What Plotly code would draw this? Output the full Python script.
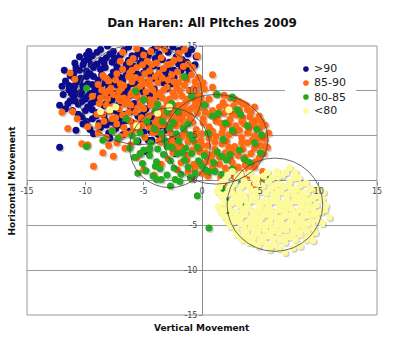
import plotly.graph_objects as go

# Pitch movement (inches) grouped by pitch speed (mph)
series_names = [">90", "85-90", "80-85", "<80"]
series_colors = ["#0c0c8c", "#ff6a12", "#26a820", "#fdfa9c"]

pts_over_90 = [
    (-8.7, 14.6), (-7.6, 14.4), (-6.3, 14.9), (-5.2, 14.5), (-4.0, 14.8), (-2.9, 14.3), (-0.9, 14.6),
    (-9.4, 13.9), (-8.2, 13.7), (-7.0, 14.0), (-5.8, 13.6), (-4.6, 13.9), (-3.4, 13.5), (-2.2, 13.8), (-1.3, 13.2),
    (-10.1, 13.3), (-9.0, 13.0), (-7.7, 13.2), (-6.5, 12.9), (-5.3, 13.1), (-4.1, 12.8), (-2.9, 12.6), (-1.8, 12.3),
    (-10.8, 12.6), (-9.9, 12.2), (-8.7, 12.4), (-7.6, 12.1), (-6.3, 12.3), (-5.0, 12.0), (-3.8, 11.7),
    (-11.3, 11.7), (-10.4, 11.4), (-9.3, 11.6), (-8.2, 11.3), (-7.0, 11.5), (-5.8, 11.2), (-4.6, 11.0), (-3.3, 10.9),
    (-11.7, 11.1), (-10.9, 10.6), (-9.8, 10.8), (-8.7, 10.5), (-7.5, 10.7), (-6.4, 10.4), (-5.2, 10.2),
    (-11.4, 10.1), (-10.3, 9.9), (-9.2, 10.1), (-8.1, 9.8), (-6.9, 9.9), (-5.7, 9.6), (-4.5, 9.5),
    (-11.0, 9.3), (-10.0, 9.1), (-8.9, 9.3), (-7.7, 9.0), (-6.5, 9.1), (-5.3, 8.8),
    (-10.6, 8.5), (-9.5, 8.6), (-8.4, 8.3), (-7.2, 8.4), (-6.1, 8.1), (-4.8, 8.0), (-12.2, 8.4),
    (-10.0, 7.8), (-8.9, 7.6), (-7.8, 7.8), (-6.6, 7.4), (-5.5, 7.2), (-4.3, 7.1),
    (-9.4, 6.9), (-8.3, 6.7), (-7.1, 6.8), (-5.9, 6.4), (-4.6, 6.4), (-3.5, 6.1),
    (-10.2, 6.3), (-8.7, 5.9), (-7.4, 5.8), (-6.2, 5.5), (-5.0, 5.4), (-3.8, 5.2), (-3.0, 5.6),
    (-2.5, 4.7), (-4.3, 4.5), (-5.5, 4.4), (-7.9, 4.7), (-4.7, 3.2), (-2.8, 3.9), (-1.9, 3.5), (-12.2, 3.7), (-11.7, 8.0),
    (-10.5, 13.8), (-9.7, 14.4), (-8.1, 15.0), (-7.2, 13.5), (-6.0, 13.9), (-4.9, 14.2), (-3.7, 14.1), (-2.5, 14.9), (-1.6, 14.7),
    (-10.2, 12.9), (-9.3, 12.6), (-8.4, 13.1), (-7.3, 12.7), (-6.1, 12.6), (-4.5, 12.5), (-3.1, 12.1), (-2.4, 11.5),
    (-11.0, 12.0), (-9.6, 11.9), (-8.6, 11.8), (-7.4, 11.9), (-6.5, 11.7), (-5.4, 11.6), (-4.2, 11.4),
    (-10.5, 11.0), (-9.4, 10.7), (-8.3, 10.9), (-7.1, 10.3), (-6.0, 10.8),
    (-11.2, 9.7), (-10.4, 9.6), (-9.6, 9.7), (-8.5, 9.6), (-7.3, 9.4), (-6.2, 9.5),
    (-10.9, 8.9), (-9.8, 8.2), (-8.0, 8.8), (-7.0, 7.3), (-9.1, 7.2), (-10.6, 7.4), (-11.3, 8.9), (-8.2, 6.2), (-6.9, 6.2), (-9.6, 5.7),
    (-11.0, 10.3), (-3.9, 13.3), (-2.0, 13.0), (-1.1, 12.0), (-3.0, 11.4),
    (-4.2, 6.0), (-4.6, 4.5), (-3.0, 6.0), (-3.6, 4.9), (-2.7, 4.2), (-2.3, 3.0),
    (-9.0, 14.3), (-7.9, 14.1), (-6.7, 14.5), (-5.5, 14.1), (-4.3, 14.5), (-3.2, 14.9), (-2.0, 14.5), (-1.2, 14.1), (-0.5, 13.8),
    (-9.7, 13.5), (-8.6, 13.4), (-7.5, 13.7), (-6.3, 13.4), (-5.1, 13.6), (-4.0, 13.6), (-2.8, 13.2), (-1.7, 13.5), (-0.6, 12.9),
    (-10.5, 12.3), (-9.5, 12.9), (-8.3, 12.6), (-7.0, 12.4), (-5.8, 12.7), (-4.8, 12.6), (-3.6, 12.3), (-2.4, 12.3), (-1.3, 12.6),
    (-11.0, 11.5), (-9.9, 11.6), (-8.9, 11.2), (-7.8, 11.6), (-6.8, 11.1), (-5.6, 11.9), (-4.4, 11.8), (-3.6, 11.2), (-2.6, 10.8),
    (-11.4, 10.6), (-10.2, 10.5), (-9.1, 10.5), (-8.0, 10.4), (-6.8, 10.7), (-5.5, 10.6), (-4.1, 10.2), (-3.0, 10.3),
    (-10.8, 9.7), (-9.8, 9.4), (-8.8, 9.9), (-7.6, 9.7), (-6.5, 9.7), (-5.0, 9.8), (-3.8, 9.4),
    (-11.5, 8.6), (-10.3, 8.8), (-9.2, 8.8), (-8.2, 8.6), (-7.0, 8.8), (-5.8, 8.6), (-4.4, 8.6),
    (-11.1, 7.8), (-10.3, 7.1), (-9.4, 7.9), (-8.4, 7.3), (-7.3, 7.7), (-6.1, 7.7), (-5.0, 7.5), (-3.9, 7.6),
    (-9.9, 6.6), (-8.8, 6.4), (-7.7, 6.5), (-6.5, 6.7), (-5.3, 6.7), (-4.0, 6.7),
    (-9.3, 5.2), (-8.0, 5.3), (-6.8, 5.1), (-5.6, 5.9), (-4.4, 5.5), (-10.8, 5.6),
    (-11.9, 9.6), (-12.0, 10.5), (-11.8, 12.3), (-10.9, 13.1), (-9.9, 14.0),
]

pts_85_90 = [
    (-6.8, 14.3), (-5.6, 14.7), (-4.4, 14.4), (-3.2, 14.6), (-2.0, 14.2),
    (-7.0, 13.3), (-5.9, 13.6), (-4.7, 13.3), (-3.5, 13.7), (-2.4, 13.4), (-1.2, 13.0),
    (-6.8, 12.4), (-5.6, 12.6), (-4.5, 12.2), (-3.3, 12.5), (-2.1, 12.1), (-0.9, 11.8), (-1.6, 12.7),
    (-11.3, 12.0), (-10.9, 11.3), (-8.5, 11.7), (-7.4, 11.2), (-6.3, 11.6), (-5.2, 11.3), (-4.0, 11.6), (-2.9, 11.2), (-1.7, 11.5), (-0.6, 11.0),
    (-8.9, 10.7), (-7.8, 10.3), (-6.7, 10.6), (-5.6, 10.2), (-4.4, 10.5), (-3.3, 10.1), (-2.2, 10.4), (-1.1, 10.0), (-0.2, 10.5),
    (-9.4, 9.4), (-8.3, 9.7), (-7.2, 9.3), (-6.1, 9.6), (-5.0, 9.2), (-3.9, 9.5), (-2.8, 9.1), (-1.7, 9.4), (-0.6, 9.0),
    (-8.8, 8.6), (-7.7, 8.2), (-6.6, 8.5), (-5.5, 8.1), (-4.4, 8.4), (-3.3, 8.0), (-2.2, 8.3), (-1.1, 7.9),
    (-12.0, 7.6), (-11.1, 7.7), (-9.0, 7.4), (-7.9, 7.7), (-6.8, 7.3), (-5.7, 7.6), (-4.6, 7.2), (-3.5, 7.5), (-2.4, 7.1),
    (-9.8, 6.0), (-8.4, 6.6), (-7.3, 6.3), (-6.2, 6.7), (-5.1, 6.2), (-4.0, 6.5), (-2.9, 6.2),
    (-8.9, 5.3), (-7.7, 5.6), (-6.5, 5.2), (-5.4, 5.6), (-4.2, 5.3),
    (-9.8, 4.0), (-10.3, 4.1), (-8.5, 3.1), (-7.6, 2.7), (-9.3, 1.6), (-7.3, 4.2), (-6.1, 4.0), (-5.3, 3.0),
    (-5.0, 1.2), (-4.1, 0.6), (-3.5, 1.8), (-5.6, 2.6),
    (-6.0, 11.0), (-4.9, 10.8), (-3.8, 10.9), (-7.1, 10.0), (-5.9, 9.9), (-4.8, 9.9), (-3.6, 9.8), (-2.5, 9.8),
    (-6.4, 9.0), (-5.3, 8.7), (-4.1, 8.9), (-3.0, 8.6), (-7.0, 8.9), (-8.1, 9.1), (-4.3, 12.9), (-6.2, 12.0),
    (-3.0, 12.9), (-5.0, 14.0), (-8.6, 10.1), (-2.0, 10.9), (-1.4, 8.7), (-0.3, 9.6), (-8.0, 11.1),
    (-2.6, 6.7), (-1.7, 6.8), (-3.8, 6.9), (-5.9, 6.0),
    (-6.2, 13.2), (-5.1, 12.9), (-3.9, 13.1), (-2.7, 13.0), (-1.9, 13.6), (-0.8, 12.6),
    (-7.3, 11.9), (-6.0, 12.3), (-4.9, 11.9), (-3.7, 12.0), (-2.6, 11.8), (-1.3, 11.2), (-0.3, 11.5),
    (-8.2, 11.4), (-7.0, 10.8), (-5.7, 11.5), (-4.5, 11.2), (-3.4, 11.4), (-2.4, 11.0), (-1.5, 10.6), (-0.7, 10.3),
    (-8.0, 10.0), (-6.9, 10.3), (-5.3, 10.5), (-4.2, 10.1), (-3.0, 10.4), (-1.9, 10.0), (-0.9, 9.3),
    (-8.7, 9.2), (-7.6, 9.6), (-6.7, 9.2), (-5.6, 9.4), (-4.5, 9.0), (-3.4, 9.2), (-2.3, 9.4), (-1.2, 9.1), (-0.1, 8.8),
    (-8.2, 8.4), (-7.1, 8.0), (-6.1, 8.4), (-5.0, 8.0), (-3.9, 8.2), (-2.8, 7.9), (-1.7, 8.1), (-0.6, 8.4),
    (-8.5, 7.4), (-7.4, 7.0), (-6.3, 7.6), (-5.2, 7.0), (-4.1, 7.6), (-3.0, 7.3), (-1.9, 7.3),
    (-8.9, 6.1), (-7.7, 6.9), (-6.7, 5.9), (-5.6, 6.4), (-4.5, 5.9), (-3.4, 6.2), (-2.2, 6.1),
    (-8.2, 4.8), (-7.0, 4.9), (-6.0, 5.3), (-4.9, 4.8), (-3.7, 4.4), (-6.6, 3.6), (-8.0, 3.9), (-4.5, 3.6),
    (-10.7, 6.9), (-11.5, 5.8), (-3.8, 15.0), (-1.5, 14.6), (-0.4, 13.9),
    (0.9, 11.8), (0.1, 10.9), (3.2, 8.8), (4.3, 6.5), (5.2, 4.9), (5.4, 3.8),
    (-0.5, 8.8), (0.6, 9.1), (1.8, 8.7), (2.9, 9.0), (-1.6, 8.4),
    (-2.5, 7.9), (-1.3, 7.7), (-0.2, 8.1), (0.9, 7.8), (2.1, 8.2), (3.2, 7.9), (4.2, 7.6),
    (-3.3, 7.0), (-2.1, 6.8), (-1.0, 7.2), (0.1, 6.9), (1.3, 7.1), (2.4, 6.8), (3.5, 7.0), (4.6, 6.7), (5.1, 6.6),
    (-3.9, 6.0), (-2.8, 5.8), (-1.6, 6.1), (-0.5, 5.7), (0.6, 6.0), (1.8, 5.8), (2.9, 6.1), (4.0, 5.7), (5.0, 5.9),
    (-3.4, 4.9), (-2.2, 5.1), (-1.1, 4.8), (0.0, 5.2), (1.2, 4.9), (2.3, 5.1), (3.4, 4.8), (4.5, 5.0), (5.4, 4.6),
    (-3.0, 4.0), (-1.8, 3.8), (-0.6, 4.2), (0.5, 3.9), (1.7, 4.1), (2.8, 3.8), (3.9, 4.2), (5.0, 3.9), (5.6, 3.7),
    (-2.5, 3.1), (-1.3, 2.8), (-0.2, 3.2), (0.9, 2.9), (2.0, 3.1), (3.1, 2.8), (4.2, 3.0), (4.9, 2.5),
    (-1.8, 2.0), (-0.7, 1.8), (0.4, 2.1), (1.5, 1.8), (2.6, 2.0), (3.7, 1.7), (4.5, 1.5),
    (-1.2, 1.0), (0.0, 0.8), (1.1, 1.1), (2.2, 0.7), (3.3, 0.9), (4.1, 0.5),
    (2.7, -1.4), (5.0, 0.0), (4.4, -0.5), (1.8, -0.3),
    (0.3, 7.6), (1.6, 6.4), (2.6, 7.4), (3.6, 6.3), (-0.8, 6.5), (0.9, 5.5), (2.1, 4.4), (3.2, 5.6), (-0.1, 4.5),
    (1.1, 3.5), (2.4, 2.5), (3.5, 3.5), (-1.5, 5.4), (0.7, 2.5), (4.3, 4.5), (-2.6, 4.5), (1.9, 9.5), (-0.9, 9.6), (3.8, 8.4), (0.2, 10.2),
    (-0.1, 9.3), (1.2, 9.6), (2.4, 9.2), (3.5, 8.6), (4.5, 8.2),
    (-2.0, 8.4), (-0.8, 8.1), (0.3, 8.5), (1.5, 8.2), (2.7, 8.3), (3.9, 7.9), (4.9, 7.2),
    (-2.9, 7.5), (-1.6, 7.4), (-0.4, 7.5), (0.7, 7.3), (1.9, 7.5), (3.0, 7.3), (4.1, 7.1), (5.4, 6.2),
    (-3.4, 6.4), (-2.3, 6.4), (-1.1, 6.7), (0.1, 6.4), (1.2, 6.6), (2.3, 6.3), (3.4, 6.6), (4.5, 6.1), (5.7, 5.3),
    (-3.8, 5.4), (-2.7, 5.3), (-1.7, 4.9), (-0.5, 5.1), (0.6, 4.7), (1.7, 5.3), (2.8, 5.4), (3.9, 5.3), (4.9, 4.7),
    (-3.5, 4.3), (-2.4, 3.9), (-1.2, 4.3), (0.0, 3.9), (1.1, 4.3), (2.3, 3.7), (3.4, 4.2), (4.5, 3.6),
    (-2.0, 3.5), (-0.8, 3.4), (0.3, 3.1), (1.5, 2.6), (2.6, 3.2), (3.7, 2.6), (4.6, 2.1), (5.3, 3.0),
    (-1.3, 2.3), (-0.2, 1.9), (0.9, 1.5), (2.0, 1.4), (3.1, 1.5), (4.0, 1.2),
    (-0.6, 1.3), (0.5, 0.5), (1.6, 0.3), (2.8, 0.4), (3.6, 0.1), (5.2, 1.0),
    (0.9, 10.4), (-0.9, 0.2), (-2.1, 1.2), (-2.9, 2.4),
]

pts_80_85 = [
    (-9.9, 10.3), (-5.7, 10.0), (-5.0, 9.0), (-3.8, 8.5), (-3.0, 7.7), (-4.0, 7.8), (-2.1, 7.7), (-2.6, 8.6), (-1.5, 11.6),
    (-9.9, 3.8), (-8.5, 4.5), (-7.7, 5.5), (-7.2, 4.7), (1.3, 9.6), (2.6, 9.3), (3.0, 7.9), (3.3, 7.4), (0.9, 7.2),
    (1.4, 7.5), (2.0, 6.4), (2.6, 5.6), (5.1, 5.1), (4.7, 5.7), (1.8, 4.6), (1.7, 2.7), (4.1, 2.0), (5.0, 3.1),
    (-0.9, 9.4), (0.2, 8.4), (-1.2, 6.3), (3.9, 6.1), (4.5, 4.2), (3.2, 3.4), (0.5, 5.3), (-0.4, 3.7), (2.6, 1.3), (3.6, 2.4), (-6.5, 6.9),
    (-6.2, 3.6), (-5.6, 4.4), (-5.0, 3.4), (-4.4, 4.2), (-3.8, 3.5), (-3.2, 4.5), (-2.6, 3.7), (-2.0, 4.4), (-1.4, 3.6), (-0.8, 4.6),
    (-5.8, 2.6), (-5.1, 1.9), (-4.5, 2.8), (-3.9, 2.1), (-3.3, 2.9), (-2.7, 2.2), (-2.1, 3.0), (-1.5, 2.3), (-0.9, 3.0), (-0.3, 2.2),
    (-4.8, 1.1), (-4.2, 0.5), (-3.6, 1.3), (-3.0, 0.6), (-2.4, 1.4), (-1.8, 0.7), (-1.2, 1.5), (-0.6, 0.8), (0.0, 1.6), (0.6, 1.0),
    (-3.5, 5.3), (-2.8, 5.9), (-2.2, 5.2), (-1.6, 5.8), (-1.0, 5.1), (-4.1, 5.8), (-4.7, 6.6), (-3.4, 6.6), (-2.5, 6.5), (-5.3, 5.3), (-6.0, 5.0),
    (-2.7, -0.6), (-1.9, -0.1), (-0.4, -1.7), (-3.9, 0.1), (-5.5, 0.8),
    (0.3, 1.2), (1.1, 1.0), (1.7, 0.7), (2.1, 2.3), (2.4, 2.9), (1.0, 2.0), (1.3, 3.2), (0.2, 2.8),
    (2.0, -2.1), (2.1, -3.6), (1.8, -1.0), (0.6, -5.3), (4.3, -6.9), (5.1, -0.4), (5.6, 0.5), (3.8, -2.5), (5.9, -5.3), (3.4, -0.3),
    (-4.5, 3.5), (-3.0, 3.8), (-1.7, 3.1), (-4.0, 1.6), (-2.3, 0.1), (-1.0, 0.3), (-5.3, 3.0), (-3.5, 0.1),
]

pts_under_80 = [
    (-8.7, 7.7), (-7.9, 7.9), (-7.4, 8.2), (-5.6, 6.1), (-3.8, 7.5), (-2.8, 8.2), (2.3, 7.9),
    (7.5, 1.4), (6.4, 1.0),
    (3.0, 0.4), (4.1, 0.8), (5.3, 0.5), (6.9, 0.6), (7.9, 0.3), (2.2, 0.6),
    (1.7, -0.2), (2.7, -0.4), (3.6, 0.0), (4.6, -0.3), (5.7, -0.1), (6.6, -0.4), (7.5, -0.2), (8.4, -0.5),
    (1.3, -1.2), (2.3, -1.0), (3.2, -1.3), (4.1, -0.9), (5.0, -1.2), (5.9, -0.9), (6.8, -1.3), (7.7, -1.0), (8.6, -1.4), (10.4, -1.3), (9.3, -0.9),
    (1.8, -2.0), (2.8, -1.8), (3.7, -2.1), (4.6, -1.8), (5.5, -2.2), (6.4, -1.9), (7.3, -2.2), (8.2, -1.9), (9.1, -2.3), (10.3, -2.1), (9.8, -1.7),
    (1.4, -2.9), (2.3, -3.1), (3.2, -2.8), (4.1, -3.2), (5.0, -2.9), (5.9, -3.3), (6.8, -2.9), (7.7, -3.2), (8.6, -2.8), (9.5, -3.2),
    (1.9, -4.0), (2.8, -4.2), (3.7, -3.8), (4.6, -4.1), (5.5, -3.8), (6.4, -4.2), (7.3, -3.9), (8.2, -4.3), (9.1, -3.9), (10.9, -4.1), (10.0, -4.4),
    (2.4, -5.1), (3.3, -4.8), (4.2, -5.2), (5.1, -4.9), (6.0, -5.3), (6.9, -4.9), (7.8, -5.2), (8.7, -4.8), (9.6, -5.3),
    (3.0, -6.0), (3.9, -6.3), (4.8, -5.9), (5.7, -6.2), (6.6, -5.8), (7.5, -6.3), (8.4, -6.0), (9.3, -6.2),
    (4.4, -7.0), (5.3, -6.8), (6.2, -7.2), (7.1, -6.9), (8.4, -7.3), (4.0, -6.9),
    (7.1, -8.0), (5.8, -7.7),
    (3.4, -0.6), (4.3, -1.5), (5.2, -0.6), (6.1, -1.6), (7.0, -0.7), (7.9, -1.6), (3.0, -2.4), (3.9, -2.6), (4.8, -2.5),
    (5.7, -2.7), (6.6, -2.5), (7.5, -2.7), (8.4, -2.4), (2.6, -3.5), (3.5, -3.4), (4.4, -3.6), (5.3, -3.5), (6.2, -3.7),
    (7.1, -3.5), (8.0, -3.7), (8.9, -3.5), (3.1, -4.5), (4.0, -4.6), (4.9, -4.5), (5.8, -4.6), (6.7, -4.5), (7.6, -4.6),
    (8.5, -4.4), (3.6, -5.5), (4.5, -5.6), (5.4, -5.5), (6.3, -5.6), (7.2, -5.5), (8.1, -5.7), (9.0, -5.6), (2.1, -1.5),
    (2.5, -2.5), (1.6, -3.5), (2.2, -4.6), (9.8, -2.7), (10.2, -3.5), (9.4, -4.6), (9.9, -1.0), (8.9, -6.6), (5.0, -6.6),
    (6.7, -6.6), (3.5, -6.6), (4.7, 0.2), (6.0, 0.3), (3.1, -1.8), (8.0, 0.9), (2.6, 1.0),
    (2.0, 0.1), (3.3, 0.7), (4.4, 0.3), (5.6, 0.9), (6.5, 0.4), (7.2, 0.9), (8.3, 0.3), (8.9, -0.3),
    (1.5, -0.7), (2.5, -0.7), (3.9, -0.4), (5.0, -0.5), (6.2, -0.6), (7.4, -0.6), (8.1, -1.0), (9.0, -1.4),
    (1.6, -1.6), (2.6, -1.4), (3.6, -1.6), (4.6, -1.2), (5.5, -1.4), (6.5, -1.2), (7.3, -1.6), (8.4, -1.8), (9.5, -2.0),
    (1.9, -2.5), (3.4, -2.2), (4.3, -2.2), (5.2, -2.4), (6.1, -2.3), (7.0, -2.5), (7.9, -2.3), (8.8, -2.1), (10.6, -2.8), (9.2, -2.8),
    (1.9, -3.3), (2.9, -3.6), (3.8, -3.1), (4.8, -3.4), (5.6, -3.1), (6.6, -3.3), (7.4, -3.0), (8.4, -3.3), (9.1, -3.1), (10.5, -3.3), (9.8, -3.7),
    (2.3, -4.1), (3.3, -4.1), (4.2, -4.3), (5.1, -4.1), (6.0, -4.0), (6.9, -4.1), (7.8, -4.0), (8.7, -4.0), (9.6, -3.8),
    (2.7, -4.6), (3.6, -5.0), (4.5, -4.8), (5.5, -5.0), (6.4, -4.9), (7.3, -5.0), (8.2, -5.0), (9.1, -4.8), (10.3, -4.8),
    (2.9, -5.5), (3.8, -5.8), (4.8, -5.4), (5.9, -5.8), (6.9, -5.4), (7.8, -5.9), (8.7, -5.4), (9.7, -5.8),
    (3.3, -6.4), (4.4, -6.3), (5.3, -6.3), (6.1, -6.5), (7.1, -6.3), (8.0, -6.6), (9.5, -6.7), (4.8, -7.3), (6.6, -7.6), (7.8, -7.5), (5.6, -7.2),
]

series_points = [pts_over_90, pts_85_90, pts_80_85, pts_under_80]

# Hand-drawn outlines around the clusters: (x centre, y centre, x radius, y radius)
cluster_rings = [
    (-5.3, 9.6, 5.3, 5.6),
    (-2.75, 3.65, 3.45, 4.45),
    (1.2, 4.6, 4.45, 5.0),
    (6.25, -2.7, 4.1, 5.2),
]

axis_ticks = [-15, -10, -5, 0, 5, 10, 15]

FONT = "DejaVu Sans"
SHADOW_DX, SHADOW_DY = 0.12, -0.16

fig = go.Figure()
for name, color, pts in zip(series_names, series_colors, series_points):
    xs = [p[0] for p in pts]
    ys = [p[1] for p in pts]
    # soft drop shadow under each marker
    fig.add_trace(go.Scatter(
        x=[v + SHADOW_DX for v in xs], y=[v + SHADOW_DY for v in ys], mode="markers",
        marker=dict(size=7, color="rgba(0,0,0,0.18)", line=dict(width=0)),
        hoverinfo="skip", showlegend=False,
    ))
    fig.add_trace(go.Scatter(
        x=xs, y=ys, mode="markers", name=name,
        marker=dict(size=7, color=color, line=dict(width=0)),
        showlegend=False,
    ))

shapes = [dict(type="rect", xref="paper", yref="paper", x0=0, x1=1, y0=0, y1=1,
               line=dict(color="#9a9a9a", width=1), layer="below")]
for cx, cy, rx, ry in cluster_rings:
    shapes.append(dict(type="circle", xref="x", yref="y",
                       x0=cx - rx, x1=cx + rx, y0=cy - ry, y1=cy + ry,
                       line=dict(color="#444444", width=0.8), layer="above"))

# legend box drawn by hand
leg_x_marker, leg_x_text = 0.797, 0.814
leg_y = [0.9145, 0.8625, 0.8104, 0.7584]
shapes.append(dict(type="rect", xref="paper", yref="paper", x0=0.737, x1=0.94, y0=0.732, y1=0.955,
                   fillcolor="white", line=dict(width=0), layer="above"))
annotations = []
for name, color, ly in zip(series_names, series_colors, leg_y):
    shapes.append(dict(type="circle", xref="paper", yref="paper", xsizemode="pixel", ysizemode="pixel",
                       xanchor=leg_x_marker, yanchor=ly, x0=-2.8, x1=2.8, y0=-2.8, y1=2.8,
                       fillcolor=color, line=dict(width=0), layer="above"))
    annotations.append(dict(text=name, xref="paper", yref="paper", x=leg_x_text, y=ly,
                            xanchor="left", yanchor="middle", showarrow=False,
                            font=dict(family=FONT, size=11, color="#222")))

annotations.append(dict(text="<b>Vertical Movement</b>", xref="paper", yref="paper", x=0.5, y=-0.048,
                        xanchor="center", yanchor="middle", showarrow=False,
                        font=dict(family=FONT, size=9, color="#111")))
annotations.append(dict(text="<b>Horizontal Movement</b>", xref="paper", yref="paper", x=-0.043, y=0.5,
                        xanchor="center", yanchor="middle", textangle=-90, showarrow=False,
                        font=dict(family=FONT, size=9, color="#111")))

tick_text = [str(t) for t in axis_ticks]
fig.update_layout(
    width=400, height=338,
    margin=dict(l=27, r=23, t=46, b=23),
    paper_bgcolor="white", plot_bgcolor="white",
    title=dict(text="<b>Dan Haren: All PItches 2009</b>", x=0.5, xref="paper", xanchor="center",
               y=1 - 23 / 338, yref="container", yanchor="middle",
               font=dict(family=FONT, size=12, color="#111")),
    xaxis=dict(range=[-15, 15], tickvals=axis_ticks, ticktext=tick_text, anchor="free", position=0.5,
               showgrid=False, zeroline=True, zerolinecolor="#8a8a8a", zerolinewidth=1, showline=False,
               ticks="outside", ticklen=3, tickcolor="#8a8a8a",
               tickfont=dict(family=FONT, size=8, color="#444")),
    yaxis=dict(range=[-15, 15], tickvals=axis_ticks, ticktext=tick_text, anchor="free", position=0.5,
               showgrid=True, gridcolor="#9a9a9a", gridwidth=1, zeroline=True, zerolinecolor="#8a8a8a",
               zerolinewidth=1, showline=False, ticks="outside", ticklen=3, tickcolor="#8a8a8a",
               tickfont=dict(family=FONT, size=8, color="#444")),
    shapes=shapes, annotations=annotations, showlegend=False,
)

fig.write_html("out.html")
